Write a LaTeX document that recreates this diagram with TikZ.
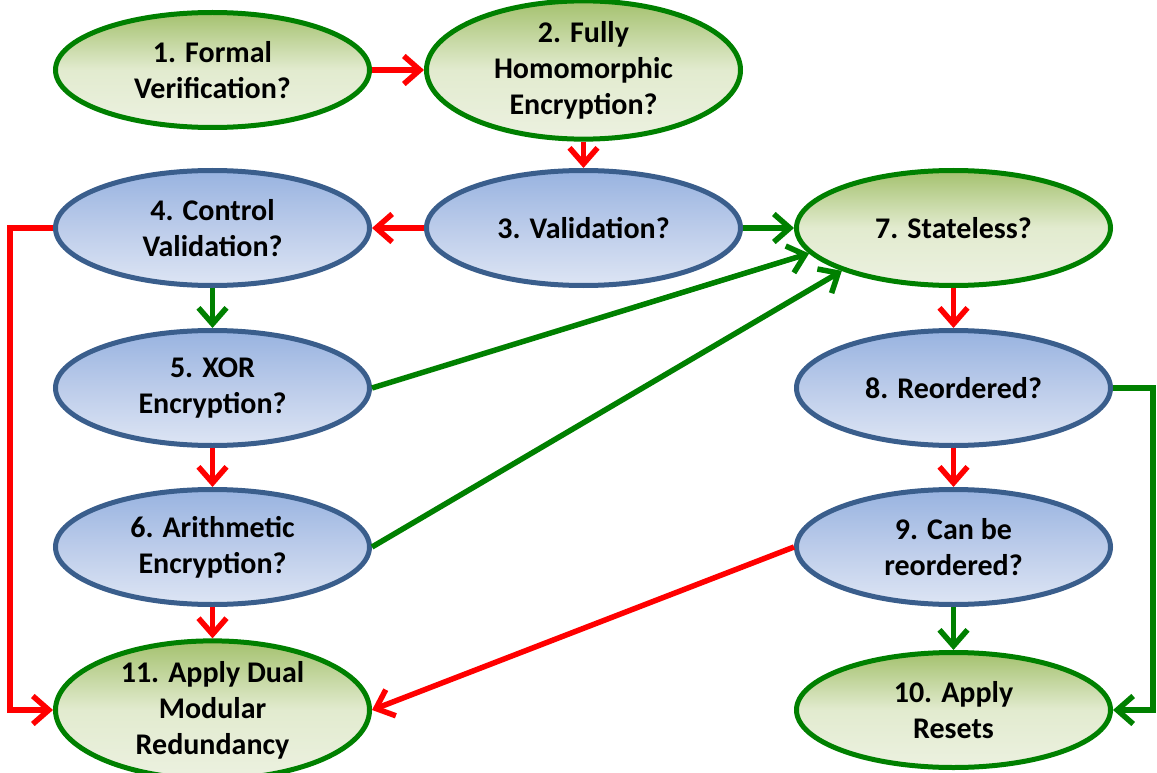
\documentclass[tikz,border=0pt]{standalone}
\usepackage{fontspec}
\setmainfont{Carlito}
\usetikzlibrary{arrows.meta,shapes.geometric}
\definecolor{gborder}{RGB}{0,128,0}
\definecolor{gtop}{RGB}{164,193,110}
\definecolor{gmid}{RGB}{226,235,207}
\definecolor{gbot}{RGB}{236,241,224}
\definecolor{bborder}{RGB}{58,94,140}
\definecolor{btop}{RGB}{152,179,224}
\definecolor{bmid}{RGB}{188,204,234}
\definecolor{bbot}{RGB}{221,229,244}
\definecolor{rline}{RGB}{255,0,0}
\definecolor{gline}{RGB}{0,128,0}
\tikzset{
  box/.style={ellipse, minimum width=314pt, minimum height=115pt, inner sep=0pt,
    line width=5pt, align=center, font=\bfseries\fontsize{30}{36}\selectfont},
  gbox/.style={box, draw=gborder, top color=gtop, bottom color=gbot, middle color=gmid},
  bbox/.style={box, draw=bborder, top color=btop, bottom color=bbot, middle color=bmid},
  conn/.style={line width=5.5pt, line join=miter, -{Straight Barb[length=16pt,width=28pt]}},
  rconn/.style={conn, draw=rline},
  gconn/.style={conn, draw=gline}
}
\begin{document}
\begin{tikzpicture}[x=1pt,y=-1pt]
\useasboundingbox (0,0) rectangle (1157,773);
\node[gbox] (n1) at (212.5,70) {1. Formal\\Verification?};
\node[gbox] (n2) at (583.5,70) {2. Fully\\Homomorphic\\Encryption?};
\node[bbox] (n3) at (583.5,228) {3. Validation?};
\node[bbox] (n4) at (212.5,228) {4. Control\\Validation?};
\node[bbox] (n5) at (212.5,388) {5. XOR\\Encryption?};
\node[bbox] (n6) at (212.5,547) {6. Arithmetic\\Encryption?};
\node[gbox] (n7) at (953.5,228) {7. Stateless?};
\node[bbox] (n8) at (953.5,388) {8. Reordered?};
\node[bbox] (n9) at (953.5,547) {9. Can be\\reordered?};
\node[gbox] (n10) at (953.5,710) {10. Apply\\Resets};
\node[gbox] (n11) at (212.5,710) {11. Apply Dual\\Modular\\Redundancy};
\coordinate (lx) at (10,0);
\coordinate (rx) at (1153,0);
\draw[rconn] (n1) -- (n2);
\draw[rconn] (n2) -- (n3);
\draw[rconn] (n3) -- (n4);
\draw[gconn] (n3) -- (n7);
\draw[gconn] (n4) -- (n5);
\draw[rconn] (n5) -- (n6);
\draw[rconn] (n6) -- (n11);
\draw[gconn] (n5.east) -- (n7.190);
\draw[gconn] (n6.east) -- (n7.201);
\draw[rconn] (n7) -- (n8);
\draw[rconn] (n8) -- (n9);
\draw[gconn] (n9) -- (n10);
\draw[rconn] (n9.west) -- (n11.east);
\draw[rconn] (n4.west) -- (n4.west -| lx) |- (n11.west);
\draw[gconn] (n8.east) -- (n8.east -| rx) |- (n10.east);
\end{tikzpicture}
\end{document}
